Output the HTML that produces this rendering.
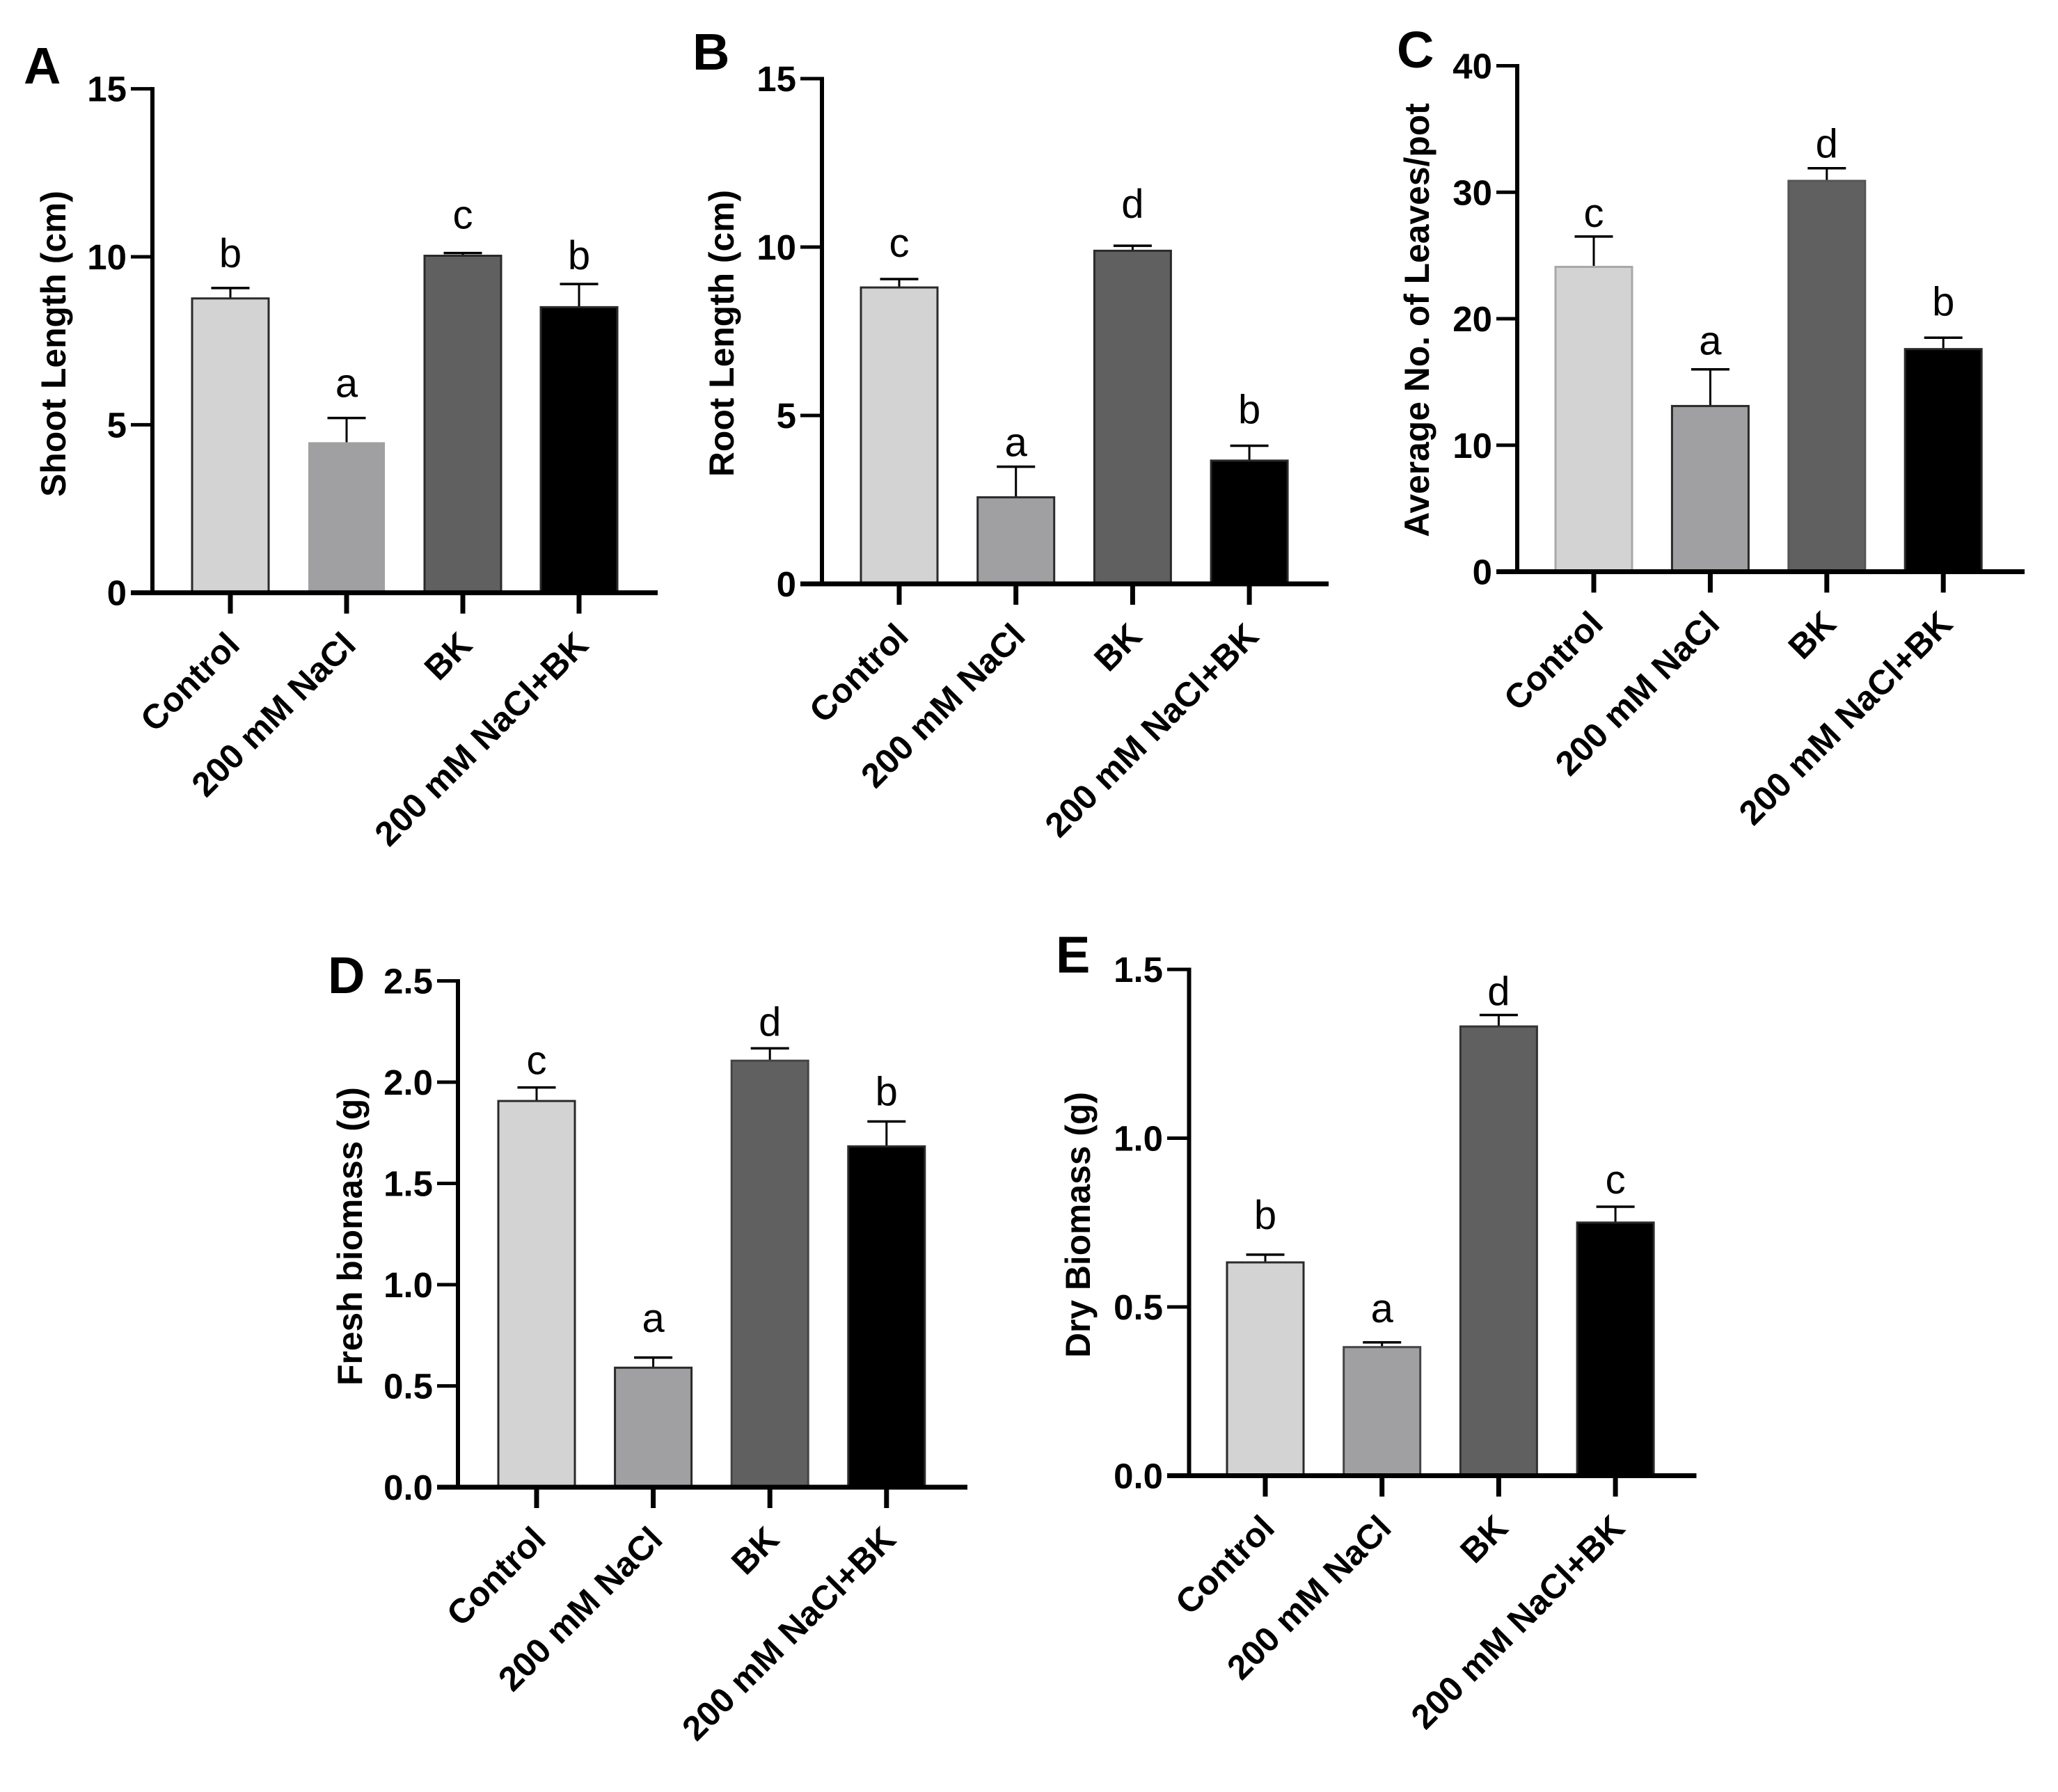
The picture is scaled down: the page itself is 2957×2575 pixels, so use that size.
<!DOCTYPE html>
<html lang="en">
<head>
<meta charset="utf-8">
<title>Plant growth under salt stress</title>
<style>
  html, body { margin: 0; padding: 0; background: #fff; }
  svg { display: block; }
  text { font-family: "Liberation Sans", sans-serif; fill: #000; }
</style>
</head>
<body>
<svg id="figure" xmlns="http://www.w3.org/2000/svg" width="2957" height="2575" viewBox="0 0 2957 2575">
  <rect width="2957" height="2575" fill="#fff"></rect>
</svg>
<script>
const categories = ["Control", "200 mM NaCl", "BK", "200 mM NaCl+BK"];

const shootMeans = [8.76, 4.48, 10.03, 8.5];
const shootErrors = [0.31, 0.72, 0.08, 0.69];
const shootLetters = ["b", "a", "c", "b"];
const shootTicks = [0, 5, 10, 15];

const rootMeans = [8.8, 2.57, 9.89, 3.66];
const rootErrors = [0.25, 0.91, 0.15, 0.44];
const rootLetters = ["c", "a", "d", "b"];
const rootTicks = [0, 5, 10, 15];

const leavesMeans = [24.1, 13.1, 30.9, 17.6];
const leavesErrors = [2.4, 2.9, 1.0, 0.9];
const leavesLetters = ["c", "a", "d", "b"];
const leavesTicks = [0, 10, 20, 30, 40];

const freshMeans = [1.907, 0.59, 2.106, 1.683];
const freshErrors = [0.067, 0.05, 0.061, 0.123];
const freshLetters = ["c", "a", "d", "b"];
const freshTicks = [0, 0.5, 1, 1.5, 2, 2.5];

const dryMeans = [0.632, 0.381, 1.331, 0.75];
const dryErrors = [0.023, 0.014, 0.034, 0.047];
const dryLetters = ["b", "a", "d", "c"];
const dryTicks = [0, 0.5, 1, 1.5];

const barFills = ["#d3d3d3", "#a0a0a2", "#606060", "#000000"];
const SVGNS = "http://www.w3.org/2000/svg";
const svg = document.getElementById("figure");

function make(parent, tag, attrs, content) {
  const node = document.createElementNS(SVGNS, tag);
  Object.keys(attrs).forEach(function (k) { node.setAttribute(k, attrs[k]); });
  if (content !== undefined) node.textContent = content;
  parent.appendChild(node);
  return node;
}

function drawPanel(p) {
  const g = make(svg, "g", {});
  
  

  const maxVal = p.ticks[p.ticks.length - 1];
  const yScale = function (v) { return p.base - (v / maxVal) * (p.base - p.top); };
  const xScale = function (i) { return p.firstX + i * p.stepX; };

  p.means.forEach(function (mean, i) {
    const cx = xScale(i);
    const yTop = yScale(mean);
    const yErr = yScale(mean + p.errors[i]);

    const stem = make(g, "line", { x1: cx, x2: cx, y1: yTop, y2: yErr, stroke: "#000", "stroke-width": 3 });
    
    

    const cap = make(g, "line", { x1: cx - 27.5, x2: cx + 27.5, y1: yErr, y2: yErr, stroke: "#000", "stroke-width": 3.5 });
    
    

    const bar = make(g, "rect", { x: cx - 55, y: yTop, width: 110, height: p.base - yTop, fill: barFills[i], stroke: p.outlines[i], "stroke-width": 3 });
    
    

    const sig = make(g, "text", { x: cx, y: yErr - p.letterGaps[i], "text-anchor": "middle", "font-size": 58 }, p.letters[i]);
    
    

    const tick = make(g, "line", { x1: cx, x2: cx, y1: p.base, y2: p.base + 30, stroke: "#000", "stroke-width": 7 });
    
    

    const label = make(g, "text", { transform: "translate(" + (cx + 16) + "," + (p.base + 78) + ") rotate(-45)", "text-anchor": "end", "font-size": 49.5, "font-weight": "bold" }, categories[i]);
    
    
  });

  p.ticks.forEach(function (v, i) {
    const y = yScale(v);
    const tick = make(g, "line", { x1: p.tickLeft, x2: p.axisX, y1: y, y2: y, stroke: "#000", "stroke-width": 5 });
    
    

    const label = make(g, "text", { x: p.tickLeft - 6, y: y + 18, "text-anchor": "end", "font-size": 51, "font-weight": "bold" }, v.toFixed(p.decimals));
    
    
  });

  const yAxis = make(g, "line", { x1: p.axisX, x2: p.axisX, y1: p.top - 2.5, y2: p.base + 3, stroke: "#000", "stroke-width": 6 });
  
  

  const xAxis = make(g, "line", { x1: p.tickLeft, x2: p.right, y1: p.base, y2: p.base, stroke: "#000", "stroke-width": 7 });
  
  

  const title = make(g, "text", { transform: "translate(" + p.titleX + "," + p.titleY + ") rotate(-90)", "text-anchor": "middle", "font-size": 49.8, "font-weight": "bold" }, p.title);
  
  

  const letter = make(g, "text", { x: p.letterX, y: p.letterY, "font-size": 74, "font-weight": "bold" }, p.letter);
  
  
}

const dark = "#2a2a2a";

drawPanel({
  letter: "A", letterX: 34, letterY: 120,
  title: "Shoot Length (cm)", titleX: 94, titleY: 494,
  means: shootMeans, errors: shootErrors, letters: shootLetters, ticks: shootTicks, decimals: 0,
  letterGaps: [30, 30, 35, 21],
  outlines: [dark, "none", dark, dark],
  axisX: 219, top: 127.6, base: 851.7, tickLeft: 188, right: 945, firstX: 331, stepX: 167
});
drawPanel({
  letter: "B", letterX: 995, letterY: 100,
  title: "Root Length (cm)", titleX: 1054, titleY: 479,
  means: rootMeans, errors: rootErrors, letters: rootLetters, ticks: rootTicks, decimals: 0,
  letterGaps: [32, 15, 40, 32],
  outlines: [dark, dark, dark, dark],
  axisX: 1181, top: 113, base: 839, tickLeft: 1150, right: 1909, firstX: 1292, stepX: 167.7
});
drawPanel({
  letter: "C", letterX: 2007, letterY: 97,
  title: "Average No. of Leaves/pot", titleX: 2053, titleY: 460,
  means: leavesMeans, errors: leavesErrors, letters: leavesLetters, ticks: leavesTicks, decimals: 0,
  letterGaps: [14, 21, 15, 32],
  outlines: ["#a8a8a8", dark, "#555555", dark],
  axisX: 2180, top: 94.5, base: 821.5, tickLeft: 2150, right: 2909, firstX: 2290, stepX: 167.4
});
drawPanel({
  letter: "D", letterX: 471, letterY: 1427,
  title: "Fresh biomass (g)", titleX: 520, titleY: 1776.6,
  means: freshMeans, errors: freshErrors, letters: freshLetters, ticks: freshTicks, decimals: 1,
  letterGaps: [19, 37, 18, 23],
  outlines: [dark, dark, "#444444", dark],
  axisX: 658, top: 1409.5, base: 2137, tickLeft: 628, right: 1390, firstX: 771, stepX: 167.6
});
drawPanel({
  letter: "E", letterX: 1517, letterY: 1397.6,
  title: "Dry Biomass (g)", titleX: 1566, titleY: 1760,
  means: dryMeans, errors: dryErrors, letters: dryLetters, ticks: dryTicks, decimals: 1,
  letterGaps: [37, 29, 14, 19],
  outlines: [dark, "#444444", "#333333", dark],
  axisX: 1708.5, top: 1393, base: 2120.5, tickLeft: 1677, right: 2437.5, firstX: 1818, stepX: 167.7
});
</script>
</body>
</html>
